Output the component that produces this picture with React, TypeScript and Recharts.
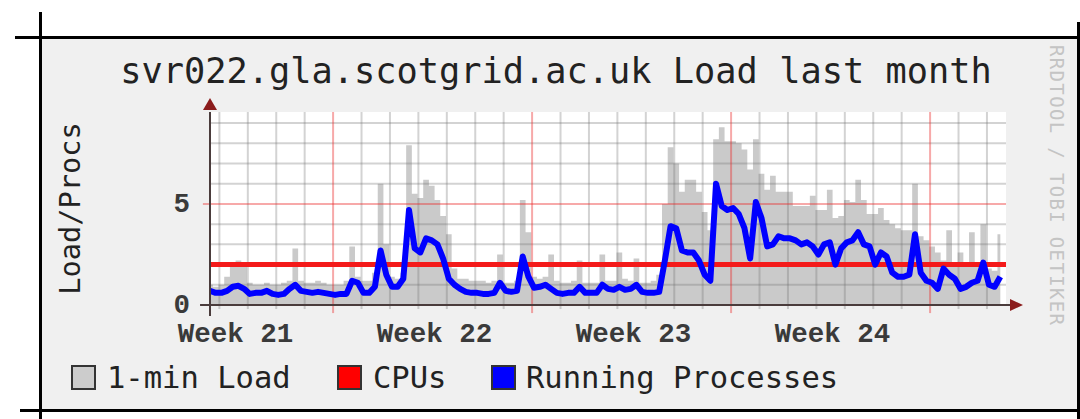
import React from 'react';
import { ComposedChart, Area, Line, XAxis, YAxis, ReferenceLine, ReferenceDot, CartesianGrid } from 'recharts';

// ---- data (sampled every 0.2 day over the last month) ----
const SAMPLE_STEP_DAYS = 0.2;

const loadAvg1 = [
  1.0, 0.9, 1.0, 1.4, 2.0, 2.2, 2.0, 1.1, 1.0, 1.0,
  1.1, 1.0, 1.0, 1.1, 1.2, 2.8, 1.2, 1.1, 1.1, 1.2,
  1.1, 1.0, 1.0, 1.0, 1.2, 2.9, 1.4, 1.2, 1.2, 1.6,
  6.0, 3.0, 1.4, 1.3, 1.6, 7.9, 5.5, 5.3, 6.2, 5.9,
  5.2, 4.4, 3.5, 1.8, 1.3, 1.3, 1.2, 1.2, 1.2, 1.1,
  1.2, 2.5, 1.1, 1.1, 1.2, 5.2, 3.6, 1.4, 1.3, 1.4,
  2.5, 1.2, 1.1, 1.1, 1.2, 2.2, 1.1, 1.1, 1.1, 2.5,
  1.2, 1.2, 2.6, 1.3, 1.2, 2.3, 1.1, 1.1, 1.2, 1.5,
  5.0, 7.8, 7.0, 5.6, 6.2, 6.2, 5.6, 4.6, 3.7, 8.2,
  8.8, 8.1, 8.1, 8.0, 7.7, 6.7, 8.2, 6.5, 5.7, 6.4,
  5.6, 5.6, 5.6, 4.9, 4.9, 4.9, 5.4, 4.7, 4.7, 5.7,
  4.3, 4.4, 5.2, 5.1, 6.2, 5.2, 4.5, 4.5, 4.8, 4.2,
  4.0, 3.8, 3.7, 3.7, 6.0, 3.4, 3.2, 2.9, 2.6, 2.2,
  3.7, 2.0, 2.6, 1.9, 3.6, 2.0, 4.0, 1.8, 1.7, 3.5,
];

const runningProcs = [
  0.7, 0.6, 0.6, 0.7, 0.9, 0.95, 0.8, 0.55, 0.6, 0.6,
  0.7, 0.55, 0.5, 0.55, 0.8, 1.0, 0.7, 0.65, 0.6, 0.65,
  0.6, 0.55, 0.5, 0.55, 0.55, 1.2, 1.1, 0.6, 0.6, 0.9,
  2.7, 1.5, 0.9, 0.9, 1.3, 4.7, 2.8, 2.6, 3.3, 3.2,
  3.0, 2.3, 1.3, 1.0, 0.8, 0.65, 0.6, 0.6, 0.55, 0.55,
  0.6, 1.1, 0.7, 0.65, 0.7, 2.4, 1.4, 0.85, 0.9, 1.0,
  0.8, 0.6, 0.55, 0.6, 0.6, 0.9, 0.6, 0.6, 0.6, 1.0,
  0.8, 0.75, 0.9, 0.75, 0.8, 1.0, 0.65, 0.6, 0.6, 0.65,
  2.2, 3.9, 3.8, 2.7, 2.6, 2.6, 2.2, 1.5, 1.2, 6.0,
  4.9, 4.7, 4.8, 4.5, 3.8, 2.3, 5.1, 4.3, 2.9, 3.0,
  3.4, 3.3, 3.3, 3.2, 3.0, 3.1, 2.9, 2.5, 3.0, 3.1,
  2.0, 2.8, 3.1, 3.2, 3.6, 3.0, 2.9, 2.0, 2.6, 2.4,
  1.6, 1.4, 1.4, 1.5, 3.5, 1.6, 1.2, 1.1, 0.8, 1.8,
  1.5, 1.3, 0.8, 0.9, 1.1, 1.2, 2.1, 1.0, 0.9, 1.4,
];

const cpuTimes = [0, 28];
const cpuCounts = [2, 2];

const weekLabels = ['Week 21', 'Week 22', 'Week 23', 'Week 24'];
const weekLabelDays = [0.9, 7.9, 14.9, 21.9];
const weekStartDays = [4.33, 11.33, 18.33, 25.33];
const yTicks = [0, 5];
const yMinorLines = [1, 2, 3, 4, 6, 7, 8, 9];
const yMajorLines = [5];

const legendLabels = ['1-min Load', 'CPUs', 'Running Processes'];
const legendColors = ['#cccccc', '#ff0000', '#0000ff'];

const X_DOMAIN: [number, number] = [0, 28];
const Y_DOMAIN: [number, number] = [0, 9.55];

// grid structure: one minor line per day (midnight), weeks drawn as major
const dayLines = Array.from({ length: 28 }, (_, k) => 0.33 + k).filter((_, k) => k % 7 !== 4);

const chartData = loadAvg1.map((v, i) => ({
  t: i * SAMPLE_STEP_DAYS,
  load: v,
  procs: runningProcs[i],
}));
const cpuData = cpuTimes.map((t, i) => ({ t, cpus: cpuCounts[i] }));

// ---- styles ----
const MONO = '"DejaVu Sans Mono", monospace';
const AXISFONT = '"Liberation Mono", "DejaVu Sans Mono", monospace';
const MINOR = 'rgba(110,110,110,0.3)';
const MAJOR = 'rgba(235,40,40,0.4)';
const ARROW = '#8b1c1c';
const AXIS = '#4a3c3c';

const legendLayout = [
  { box: 72, text: 107 },
  { box: 338, text: 373 },
  { box: 492, text: 526 },
];

const renderXTick = (props: any) => {
  const idx = weekLabelDays.indexOf(props.payload.value);
  return (
    <text x={props.x} y={props.y} dy={37} textAnchor="middle" fontFamily={AXISFONT}
      fontWeight="bold" fontSize={27.5} fill="#3a3a3a">
      {weekLabels[idx] ?? ''}
    </text>
  );
};

const renderYTick = (props: any) => (
  <text x={props.x} y={props.y} dx={-20} dy={8} textAnchor="end" fontFamily={AXISFONT}
    fontWeight="bold" fontSize={27.5} fill="#3a3a3a">
    {props.payload.value}
  </text>
);

const line = (s: React.CSSProperties): React.CSSProperties => ({ position: 'absolute', background: '#000', ...s });

export default function App() {
  return (
    <div style={{ position: 'absolute', left: 0, top: 0, width: 1080, height: 419, background: '#fff', overflow: 'hidden' }}>
      <div style={{ position: 'absolute', left: 41, top: 38, width: 1036, height: 372, background: '#f0f0f0' }} />
      <div style={line({ left: 15, top: 36, width: 1065, height: 3 })} />
      <div style={line({ left: 39, top: 12, width: 3, height: 407 })} />
      <div style={line({ left: 20, top: 409, width: 1060, height: 3 })} />
      <div style={line({ left: 1077, top: 22, width: 3, height: 397 })} />

      <svg width={1080} height={419} style={{ position: 'absolute', left: 0, top: 0 }}>
        <text x={556} y={83} textAnchor="middle" fontFamily={MONO} fontSize={35.3} fill="#222">
          svr022.gla.scotgrid.ac.uk Load last month
        </text>
        <text x={80} y={208.5} transform="rotate(-90 80 208.5)" textAnchor="middle" fontFamily={MONO}
          fontSize={28.7} fill="#222">
          Load/Procs
        </text>
        <text x={1050} y={185} transform="rotate(90 1050 185)" textAnchor="middle" fontFamily={MONO}
          fontSize={19} fill="#c4c4c4" textLength={280} lengthAdjust="spacing">
          RRDTOOL / TOBI OETIKER
        </text>
        {legendLabels.map((label, i) => (
          <g key={label}>
            <rect x={legendLayout[i].box} y={366} width={23} height={23} fill={legendColors[i]}
              stroke="#333" strokeWidth={2} />
            <text x={legendLayout[i].text} y={388} fontFamily={MONO} fontSize={30.5} fill="#222">
              {label}
            </text>
          </g>
        ))}
      </svg>

      <div style={{ position: 'absolute', left: 0, top: 0 }}>
        <ComposedChart width={1080} height={419} data={chartData}
          margin={{ top: 112, right: 74, bottom: 64, left: 150 }}>
          <CartesianGrid fill="#ffffff" fillOpacity={1} horizontal={false} vertical={false} />
          <XAxis dataKey="t" type="number" domain={X_DOMAIN} allowDataOverflow ticks={weekLabelDays}
            height={50} axisLine={false} tickLine={false} tickSize={0} tickMargin={0} tick={renderXTick}
            interval={0} />
          <YAxis type="number" domain={Y_DOMAIN} allowDataOverflow ticks={yTicks} width={60}
            axisLine={false} tickLine={false} tickSize={0} tickMargin={0} tick={renderYTick} interval={0} />

          <Area type="step" dataKey="load" fill="#cacaca" fillOpacity={1} stroke="none"
            isAnimationActive={false} />

          {dayLines.map((d) => (
            <ReferenceLine key={'d' + d} ifOverflow="visible" stroke={MINOR} strokeWidth={2}
              segment={[{ x: d, y: -0.2 }, { x: d, y: Y_DOMAIN[1] }]} />
          ))}
          {yMinorLines.map((v) => (
            <ReferenceLine key={'h' + v} ifOverflow="visible" stroke={MINOR} strokeWidth={2}
              segment={[{ x: 0, y: v }, { x: X_DOMAIN[1], y: v }]} />
          ))}
          {weekStartDays.map((d) => (
            <ReferenceLine key={'w' + d} ifOverflow="visible" stroke={MAJOR} strokeWidth={2}
              segment={[{ x: d, y: -0.4 }, { x: d, y: Y_DOMAIN[1] }]} />
          ))}
          {yMajorLines.map((v) => (
            <ReferenceLine key={'m' + v} ifOverflow="visible" stroke={MAJOR} strokeWidth={2}
              segment={[{ x: -0.25, y: v }, { x: X_DOMAIN[1], y: v }]} />
          ))}

          <Line data={cpuData} type="linear" dataKey="cpus" stroke="#f41a1a" strokeWidth={5}
            dot={false} activeDot={false} isAnimationActive={false} />
          <Line type="linear" dataKey="procs" stroke="#0000ff" strokeWidth={6} dot={false}
            activeDot={false} strokeLinejoin="round" isAnimationActive={false} />

          <ReferenceLine ifOverflow="visible" stroke={AXIS} strokeWidth={2}
            segment={[{ x: -0.35, y: 0 }, { x: 28.2, y: 0 }]} />
          <ReferenceLine ifOverflow="visible" stroke={AXIS} strokeWidth={2}
            segment={[{ x: 0, y: -0.55 }, { x: 0, y: Y_DOMAIN[1] }]} />
          <ReferenceDot x={X_DOMAIN[1]} y={0} ifOverflow="visible"
            shape={(p: any) => (
              <path d={`M${p.cx + 4},${p.cy - 6} L${p.cx + 17},${p.cy} L${p.cx + 4},${p.cy + 6} Z`} fill={ARROW} />
            )} />
          <ReferenceDot x={0} y={Y_DOMAIN[1]} ifOverflow="visible"
            shape={(p: any) => (
              <path d={`M${p.cx - 7},${p.cy - 2} L${p.cx},${p.cy - 14} L${p.cx + 7},${p.cy - 2} Z`} fill={ARROW} />
            )} />
        </ComposedChart>
      </div>
    </div>
  );
}
